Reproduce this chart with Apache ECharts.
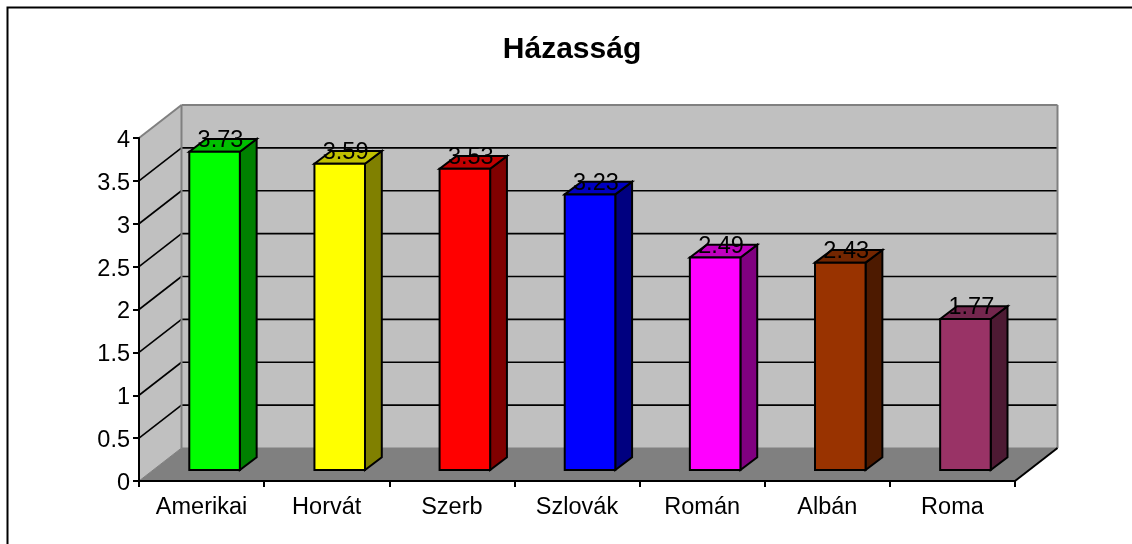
<!DOCTYPE html>
<html>
<head>
<meta charset="utf-8">
<style>html,body{margin:0;padding:0;background:#fff}#c{width:1132px;height:544px}</style>
<script src="https://cdn.jsdelivr.net/npm/echarts@6/dist/echarts.min.js"></script>
</head>
<body>
<div id="c"></div>
<script>
const titleText = 'Házasság';
const categories = ['Amerikai','Horvát','Szerb','Szlovák','Román','Albán','Roma'];
const values = [3.73,3.59,3.53,3.23,2.49,2.43,1.77];
const gridValues = [0.5,1,1.5,2,2.5,3,3.5];
const faceColors = ['#00FF00','#FFFF00','#FF0000','#0000FF','#FF00FF','#993300','#993366'];
const topColors  = ['#00C000','#C0C000','#C00000','#0000C0','#C000C0','#732600','#73264D'];
const sideColors = ['#008000','#808000','#800000','#000080','#800080','#4D1A00','#4D1A33'];

const FONT = '"Liberation Sans", Arial, sans-serif';
const DX = 42.5, DY = -33;          // projection of the chart's full depth
const BAR_OFF = [13, -11];          // projection of the gap between the front plane and a bar
const BAR_DEPTH = [16.8, -12.7];    // projection of a bar's depth
const BAR_SCALE = 0.995;            // slight foreshortening of bars set back from the front plane
const BAR_SHARE = 0.404;            // bar width as share of the category band

function poly(points, fill, stroke, lw){
  return {type:'polygon', shape:{points}, style:{fill, stroke, lineWidth:lw||0, lineJoin:'miter'}};
}
function seg(a, b, stroke, lw){
  return {type:'line', shape:{x1:a[0],y1:a[1],x2:b[0],y2:b[1]}, style:{stroke, lineWidth:lw}};
}
function shift(p){ return [p[0]+DX, p[1]+DY]; }
function add(p, o){ return [p[0]+o[0], p[1]+o[1]]; }

function renderRoom(params, api){
  const cs = params.coordSys;
  const L = cs.x, R = cs.x+cs.width, T = cs.y, B = cs.y+cs.height;
  const fl=[L,B], fr=[R,B], tl=[L,T];
  const bl=shift(fl), br=shift(fr), btl=shift(tl), btr=[br[0],btl[1]];
  const kids = [
    poly([btl,btr,br,bl],'#C0C0C0'),
    poly([tl,btl,bl,fl],'#C0C0C0'),
    poly([fl,fr,br,bl],'#808080')
  ];
  gridValues.forEach(v=>{
    const y = api.coord([0,v])[1];
    const a=[L,y], b=shift(a);
    kids.push(seg(a,b,'#000',1.6));
    kids.push(seg(b,[br[0],b[1]],'#000',1.6));
  });
  kids.push(seg(tl,btl,'#808080',2));
  kids.push(seg(btl,btr,'#808080',2));
  kids.push(seg(btr,br,'#808080',2));
  kids.push(seg(btl,bl,'#808080',2));
  kids.push(seg(bl,br,'#808080',1));
  kids.push(seg(fl,bl,'#808080',1));
  kids.push(seg(fr,br,'#000',2));
  return {type:'group', children:kids};
}

function renderBar(params, api){
  const i = api.value(0), v = api.value(1);
  const band = api.size([1,0])[0];
  const w = band*BAR_SHARE;
  const c = api.coord([i,v]), b = api.coord([i,0]);
  const topY = b[1] + (c[1]-b[1])*BAR_SCALE;
  const f0 = add([c[0]-w/2,topY],BAR_OFF), f1 = add([c[0]+w/2,topY],BAR_OFF);
  const g0 = add([c[0]-w/2,b[1]],BAR_OFF), g1 = add([c[0]+w/2,b[1]],BAR_OFF);
  const t0 = add(f0,BAR_DEPTH), t1 = add(f1,BAR_DEPTH), g2 = add(g1,BAR_DEPTH);
  const stroke='#000';
  return {type:'group', children:[
    poly([f1,t1,g2,g1],sideColors[i],stroke,2),
    poly([f0,t0,t1,f1],topColors[i],stroke,2),
    poly([f0,f1,g1,g0],faceColors[i],stroke,2),
    {type:'text', x:(f0[0]+t1[0])/2-2.5, y:f0[1]-11,
     style:{text:String(v), font:'23.5px '+FONT, fill:'#000', align:'center', verticalAlign:'middle'}}
  ]};
}

const chart = echarts.init(document.getElementById('c'), null, {renderer:'canvas'});
chart.setOption({
  animation:false,
  backgroundColor:'#fff',
  title:{text:titleText, left:567, top:30, textAlign:'center',
    textStyle:{fontFamily:FONT, fontSize:30, fontWeight:'bold', color:'#000'}},
  graphic:[{type:'rect', z:100, shape:{x:7.5,y:7.5,width:1300,height:700},
    style:{fill:'none',stroke:'#000',lineWidth:2}}],
  grid:{left:139, right:117, top:138, bottom:63},
  xAxis:{type:'category', data:categories, z:10,
    axisLine:{lineStyle:{color:'#000',width:2}},
    axisTick:{show:true,length:6,lineStyle:{color:'#000',width:2}},
    axisLabel:{fontFamily:FONT,fontSize:23.5,color:'#000',margin:15},
    splitLine:{show:false}},
  yAxis:{type:'value', min:0, max:4, interval:0.5, z:10,
    axisLine:{show:true,lineStyle:{color:'#000',width:2}},
    axisTick:{show:true,length:6,lineStyle:{color:'#000',width:2}},
    axisLabel:{fontFamily:FONT,fontSize:23.5,color:'#000',margin:9,formatter:'{a|{value}}',
      rich:{a:{fontFamily:FONT,fontSize:23.5,color:'#000',padding:[5,0,0,0]}}},
    splitLine:{show:false}},
  series:[
    {type:'custom', z:1, silent:true, clip:false, renderItem:renderRoom, data:[[0,0]]},
    {type:'custom', z:3, silent:true, clip:false, renderItem:renderBar,
     encode:{x:0,y:1}, data:values.map((v,i)=>[i,v])}
  ]
});
</script>
</body>
</html>
